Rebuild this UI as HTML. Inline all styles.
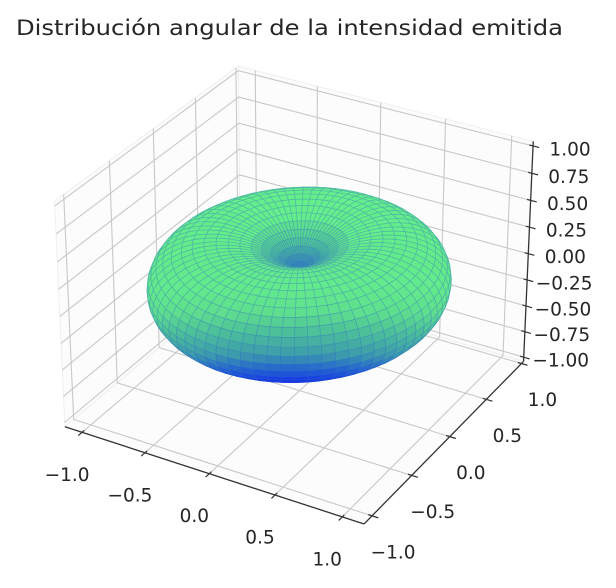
<!DOCTYPE html>
<html><head><meta charset="utf-8">
<style>
html,body{margin:0;padding:0;background:#fff;}
svg{display:block;}
text{font-family:"DejaVu Sans","Liberation Sans",sans-serif;fill:#262626;}
</style></head>
<body>
<svg id="chart" width="616" height="588" viewBox="0 0 616 588" xmlns="http://www.w3.org/2000/svg">
<text x="289.5" y="35" text-anchor="middle" font-size="21" textLength="547" lengthAdjust="spacingAndGlyphs">Distribución angular de la intensidad emitida</text>
<g id="panes"></g>
<g id="grid"></g>
<g id="axes"></g>
<g id="surface"></g>
</svg>
<script>
// tick data
const xTicks = [-1.0, -0.5, 0.0, 0.5, 1.0];
const xTickLabels = ["\u22121.0", "\u22120.5", "0.0", "0.5", "1.0"];
const yTicks = [-1.0, -0.5, 0.0, 0.5, 1.0];
const yTickLabels = ["\u22121.0", "\u22120.5", "0.0", "0.5", "1.0"];
const zTicks = [-1.0, -0.75, -0.5, -0.25, 0.0, 0.25, 0.5, 0.75, 1.0];
const zTickLabels = ["\u22121.00", "\u22120.75", "\u22120.50", "\u22120.25", "0.00", "0.25", "0.50", "0.75", "1.00"];
// axis limits
const xLim = [-1.138, 1.16];
const yLim = [-1.098, 1.03];
const zLim = [-1.042, 1.042];
// surface sampling (dipole pattern r = sin^2 theta)
const thetaCount = [46];
const phiCount = [72];

const NS = "http://www.w3.org/2000/svg";
const BX = 1.1428, BY = 1.1428, BZ = 0.8571;
const S = 3000, CX = 298.3, CY = 284.5;
const R = [0.866, 0.5, 0], U = [-0.25, 0.433, 0.866], N = [0.433, -0.75, 0.5];
function world(x, y, z) {
  return [((x - xLim[0]) / (xLim[1] - xLim[0]) - 0.5) * BX,
          ((y - yLim[0]) / (yLim[1] - yLim[0]) - 0.5) * BY,
          ((z - zLim[0]) / (zLim[1] - zLim[0]) - 0.5) * BZ];
}
function dot(a, b) { return a[0]*b[0] + a[1]*b[1] + a[2]*b[2]; }
function proj(x, y, z) {
  const q = world(x, y, z);
  const d = 10 - dot(q, N);
  return [CX + dot(q, R) / d * S, CY - dot(q, U) / d * S, dot(q, N)];
}
function line(g, a, b, stroke, w, name) {
  const p = proj(a[0], a[1], a[2]), r = proj(b[0], b[1], b[2]);
  const l = document.createElementNS(NS, "line");
  l.setAttribute("x1", p[0].toFixed(2)); l.setAttribute("y1", p[1].toFixed(2));
  l.setAttribute("x2", r[0].toFixed(2)); l.setAttribute("y2", r[1].toFixed(2));
  l.setAttribute("stroke", stroke); l.setAttribute("stroke-width", w);
  
  
  g.appendChild(l);
}
function poly(g, pts, fill, stroke, name) {
  const p = document.createElementNS(NS, "polygon");
  p.setAttribute("points", pts.map(v => v[0].toFixed(2) + "," + v[1].toFixed(2)).join(" "));
  p.setAttribute("fill", fill);
  if (stroke) { p.setAttribute("stroke", stroke); p.setAttribute("stroke-width", "0.7"); p.setAttribute("stroke-linejoin", "round"); }
  else { p.setAttribute("stroke", "#ececec"); p.setAttribute("stroke-width", "0.8"); }
  
  
  g.appendChild(p);
}
function label(g, x, y, txt, name) {
  const t = document.createElementNS(NS, "text");
  t.setAttribute("x", x.toFixed(2)); t.setAttribute("y", y.toFixed(2));
  t.setAttribute("text-anchor", "middle"); t.setAttribute("dominant-baseline", "central");
  t.setAttribute("font-size", "18.5");
  t.textContent = txt;
  
  
  g.appendChild(t);
}
const [x0, x1] = xLim, [y0, y1] = yLim, [z0, z1] = zLim;
// panes
const panes = document.getElementById("panes");
poly(panes, [proj(x0,y0,z0), proj(x0,y1,z0), proj(x0,y1,z1), proj(x0,y0,z1)], "#fcfcfc", null, "pane-left");
poly(panes, [proj(x0,y1,z0), proj(x1,y1,z0), proj(x1,y1,z1), proj(x0,y1,z1)], "#fcfcfc", null, "pane-back");
poly(panes, [proj(x0,y0,z0), proj(x1,y0,z0), proj(x1,y1,z0), proj(x0,y1,z0)], "#fcfcfc", null, "pane-floor");
// grid
const grid = document.getElementById("grid");
const GC = "#c8c8c8", GW = 1.1;
yTicks.forEach(v => line(grid, [x0, v, z0], [x0, v, z1], GC, GW, "grid-line-left-y"));
zTicks.forEach(v => line(grid, [x0, y0, v], [x0, y1, v], GC, GW, "grid-line-left-z"));
xTicks.forEach(v => line(grid, [v, y1, z0], [v, y1, z1], GC, GW, "grid-line-back-x"));
zTicks.forEach(v => line(grid, [x0, y1, v], [x1, y1, v], GC, GW, "grid-line-back-z"));
xTicks.forEach(v => line(grid, [v, y0, z0], [v, y1, z0], GC, GW, "grid-line-floor-x"));
yTicks.forEach(v => line(grid, [x0, v, z0], [x1, v, z0], GC, GW, "grid-line-floor-y"));
// axes
const axes = document.getElementById("axes");
const AC = "#333", AW = 1.3;
line(axes, [x0, y0, z0], [x1, y0, z0], AC, AW, "x-axis-line");
line(axes, [x1, y0, z0], [x1, y1, z0], AC, AW, "y-axis-line");
line(axes, [x1, y1, z0], [x1, y1, z1], AC, AW, "z-axis-line");
const dy = (y1 - y0), dx = (x1 - x0);
xTicks.forEach((v, i) => {
  line(axes, [v, y0 + 0.012*dy, z0], [v, y0 - 0.02*dy, z0], AC, 1.2, "x-tick");
  const p = proj(v, y0, z0);
  label(axes, p[0] - 15, p[1] + 43, xTickLabels[i], "x-tick-label");
});
yTicks.forEach((v, i) => {
  line(axes, [x1 - 0.012*dx, v, z0], [x1 + 0.02*dx, v, z0], AC, 1.2, "y-tick");
  const p = proj(x1, v, z0);
  label(axes, p[0] + 21, p[1] + 37, yTickLabels[i], "y-tick-label");
});
zTicks.forEach((v, i) => {
  line(axes, [x1 - 0.012*dx, y1, v], [x1 + 0.02*dx, y1, v], AC, 1.2, "z-tick");
  const p = proj(x1, y1, v);
  label(axes, p[0] + 37, p[1] + 4, zTickLabels[i], "z-tick-label");
});
// surface
const surf = document.getElementById("surface");
const stops = [[0,[15,40,235]],[0.2,[35,95,210]],[0.38,[60,155,172]],[0.5,[78,195,152]],[0.65,[94,222,142]],[1,[102,242,138]]];
function rgb(t) {
  t = Math.max(0, Math.min(1, t));
  for (let i = 1; i < stops.length; i++) {
    if (t <= stops[i][0]) {
      const a = stops[i-1], b = stops[i], f = (t - a[0]) / (b[0] - a[0]);
      return [0,1,2].map(j => a[1][j] + (b[1][j]-a[1][j])*f);
    }
  }
  return [102,242,138];
}
function css(c) { return "rgb(" + c.map(v => Math.round(v)).join(",") + ")"; }
// screen-height shading profile: [screen y, colour position]
const shadeY = [[200,0.95],[290,0.85],[330,0.5],[355,0.38],[372,0.18],[384,0.0]];
function tFromY(y) {
  if (y <= shadeY[0][0]) return shadeY[0][1];
  for (let i = 1; i < shadeY.length; i++) {
    if (y <= shadeY[i][0]) {
      const a = shadeY[i-1], b = shadeY[i], f = (y - a[0]) / (b[0] - a[0]);
      return a[1] + (b[1] - a[1]) * f;
    }
  }
  return 0;
}
const NT = thetaCount[0], NP = phiCount[0];
const pts = [];
for (let i = 0; i <= NT; i++) {
  const th = Math.PI * i / NT; const row = [];
  for (let j = 0; j <= NP; j++) {
    const ph = 2 * Math.PI * j / NP;
    const r = Math.pow(Math.sin(th), 2);
    row.push([r*Math.sin(th)*Math.cos(ph), r*Math.sin(th)*Math.sin(ph), r*Math.cos(th)]);
  }
  pts.push(row);
}
const faces = [];
for (let i = 0; i < NT; i++) for (let j = 0; j < NP; j++) {
  const c = [pts[i][j], pts[i+1][j], pts[i+1][j+1], pts[i][j+1]];
  const pr = c.map(p => proj(p[0], p[1], p[2]));
  const cen = [0,1,2].map(k => (c[0][k]+c[1][k]+c[2][k]+c[3][k]) / 4);
  const sy = (pr[0][1]+pr[1][1]+pr[2][1]+pr[3][1]) / 4;
  const depth = (pr[0][2]+pr[1][2]+pr[2][2]+pr[3][2]) / 4;
  faces.push({pr, rho: Math.hypot(cen[0], cen[1]), sy, depth});
}
faces.sort((a, b) => a.depth - b.depth);
const edgeTint = [45, 100, 205];
faces.forEach(f => {
  let t = tFromY(f.sy);
  if (f.rho < 0.3) t = Math.min(t, 0.3 + f.rho * 1.3);
  const c = rgb(t);
  const e = c.map((v, k) => v * 0.62 + edgeTint[k] * 0.38);
  poly(surf, f.pr, css(c), css(e), "surface-face");
});
</script>
</body></html>
